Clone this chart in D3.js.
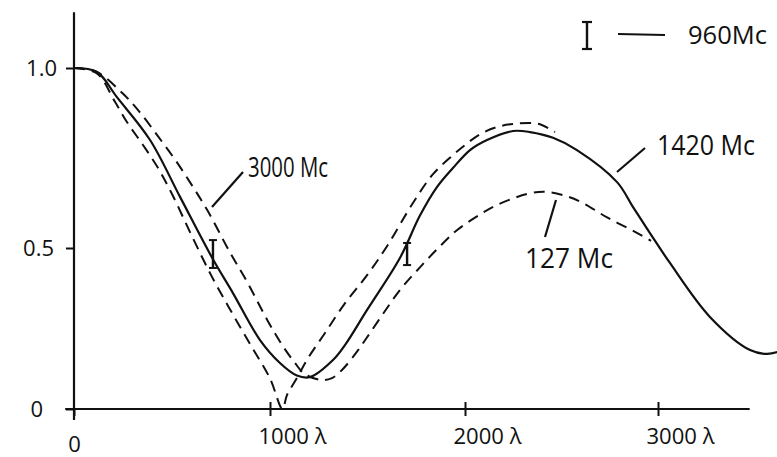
<!DOCTYPE html>
<html><head><meta charset="utf-8">
<script src="https://cdn.jsdelivr.net/npm/d3@7"></script>
<style>body{margin:0;background:#fff}svg{display:block}text{font-family:"Open Sans",sans-serif;fill:#111}</style>
</head><body><div id="chart"></div>
<script>
// ---- data (baseline in wavelengths λ, relative visibility) ----
const xTicks = [0, 1000, 2000, 3000];
const xTickLabels = ["0", "1000 λ", "2000 λ", "3000 λ"];
const yTicks = [0, 0.5, 1.0];
const yTickLabels = ["0", "0.5", "1.0"];

// 1420 Mc (solid)
const mc1420 = [[0,1.0],[117,0.989],[219,0.919],[388,0.80],[541,0.642],[709,0.465],[811,0.36],[949,0.214],[1051,0.143],[1138,0.104],[1205,0.099],[1323,0.152],[1385,0.199],[1497,0.307],[1667,0.47],[1769,0.59],[1856,0.669],[1938,0.722],[2026,0.772],[2114,0.80],[2249,0.825],[2337,0.822],[2456,0.806],[2580,0.772],[2788,0.683],[2870,0.614],[2960,0.54],[3060,0.455],[3269,0.286],[3477,0.183],[3565,0.171],[3620,0.177]];
// dashed curve reaching zero, upper second maximum
const dashedA = [[0,1.0],[117,0.985],[209,0.906],[270,0.85],[352,0.786],[429,0.722],[500,0.65],[600,0.535],[700,0.415],[800,0.305],[900,0.2],[1000,0.095],[1064,0.0],[1087,0.043],[1138,0.096],[1195,0.158],[1282,0.236],[1385,0.329],[1497,0.415],[1600,0.505],[1733,0.625],[1836,0.705],[1938,0.758],[2000,0.786],[2078,0.816],[2166,0.836],[2259,0.845],[2378,0.845],[2466,0.822]];
// dashed curve, outer on descent, lower second maximum
const dashedB = [[0,1.0],[117,0.989],[245,0.931],[327,0.883],[429,0.81],[520,0.742],[602,0.674],[679,0.606],[796,0.486],[883,0.395],[990,0.272],[1062,0.199],[1128,0.143],[1179,0.108],[1267,0.09],[1318,0.096],[1369,0.121],[1446,0.178],[1497,0.222],[1579,0.295],[1667,0.37],[1769,0.44],[1872,0.505],[1960,0.55],[2060,0.587],[2160,0.618],[2321,0.65],[2415,0.656],[2520,0.645],[2611,0.625],[2736,0.585],[2881,0.545],[2964,0.52]];
// 960 Mc measurements with error bars: [baseline, low, high]
const mc960 = [[709,0.438,0.522],[1703,0.447,0.514]];

const W = 777, H = 457;
const svg = d3.select("#chart").append("svg").attr("width", W).attr("height", H);

// hand-drawn axes are not uniform: piecewise linear scales
const x = d3.scaleLinear().domain(xTicks).range([74, 270, 465, 658]);
const y = d3.scaleLinear().domain(yTicks).range([409, 248, 68]);

const ink = "#111";

// axis lines
svg.append("line").attr("x1", x(-45)).attr("x2", x(3475)).attr("y1", y(0)).attr("y2", y(0))
  .attr("stroke", ink).attr("stroke-width", 2.2);
svg.append("line").attr("x1", x(0)).attr("x2", x(0)).attr("y1", y(1.155)).attr("y2", y(0) + 11)
  .attr("stroke", ink).attr("stroke-width", 2.2);

// y axis ticks
const yAxis = d3.axisLeft(y).tickValues(yTicks).tickSize(8).tickPadding(17)
  .tickFormat((d, i) => yTickLabels[i]);
const gy = svg.append("g").attr("transform", `translate(${x(0)},0)`).call(yAxis);
gy.select(".domain").remove();
gy.selectAll(".tick line").attr("stroke", ink).attr("stroke-width", 2);
gy.selectAll(".tick text").attr("font-size", 22).attr("fill", ink)
  .attr("font-family", "Open Sans, sans-serif")
  .attr("x", (d) => d === 0 ? -31 : (d === 0.5 ? -20 : -17));

// x axis ticks
const xAxis = d3.axisBottom(x).tickValues(xTicks).tickSize(7).tickPadding(14)
  .tickFormat((d, i) => xTickLabels[i]);
const gx = svg.append("g").attr("transform", `translate(0,${y(0)})`).call(xAxis);
gx.select(".domain").remove();
gx.selectAll(".tick line").attr("stroke", ink).attr("stroke-width", 2).attr("y1", (d) => d === 0 ? 0 : -7);
gx.selectAll(".tick text").attr("font-size", 22).attr("fill", ink)
  .attr("font-family", "Open Sans, sans-serif")
  .attr("text-anchor", (d) => d === 0 ? "middle" : "start")
  .attr("x", (d) => d === 0 ? 0 : -12)
  .attr("y", (d) => d === 0 ? 27 : 19)
  .attr("textLength", (d) => d === 0 ? null : 68).attr("lengthAdjust", "spacingAndGlyphs");

// curves
const line = d3.line().x(d => x(d[0])).y(d => y(d[1])).curve(d3.curveCatmullRom.alpha(0.5));
svg.append("path").datum(dashedA).attr("d", line).attr("fill", "none")
  .attr("stroke", ink).attr("stroke-width", 2).attr("stroke-dasharray", "11,7");
svg.append("path").datum(dashedB).attr("d", line).attr("fill", "none")
  .attr("stroke", ink).attr("stroke-width", 2).attr("stroke-dasharray", "11,7");
svg.append("path").datum(mc1420).attr("d", line).attr("fill", "none")
  .attr("stroke", ink).attr("stroke-width", 2.2);

// 960 Mc error bars
const eb = svg.append("g").selectAll("g").data(mc960).join("g");
eb.append("line").attr("x1", d => x(d[0])).attr("x2", d => x(d[0]))
  .attr("y1", d => y(d[1])).attr("y2", d => y(d[2])).attr("stroke", ink).attr("stroke-width", 2.4);
eb.append("line").attr("x1", d => x(d[0]) - 4).attr("x2", d => x(d[0]) + 4)
  .attr("y1", d => y(d[1])).attr("y2", d => y(d[1])).attr("stroke", ink).attr("stroke-width", 2);
eb.append("line").attr("x1", d => x(d[0]) - 4).attr("x2", d => x(d[0]) + 4)
  .attr("y1", d => y(d[2])).attr("y2", d => y(d[2])).attr("stroke", ink).attr("stroke-width", 2);

// legend for 960 Mc
const lg = svg.append("g");
lg.append("line").attr("x1", 587).attr("x2", 587).attr("y1", 22).attr("y2", 49).attr("stroke", ink).attr("stroke-width", 2.4);
lg.append("line").attr("x1", 582).attr("x2", 592).attr("y1", 22).attr("y2", 22).attr("stroke", ink).attr("stroke-width", 2.2);
lg.append("line").attr("x1", 582).attr("x2", 592).attr("y1", 49).attr("y2", 49).attr("stroke", ink).attr("stroke-width", 2.2);
lg.append("line").attr("x1", 618).attr("x2", 665).attr("y1", 34).attr("y2", 35).attr("stroke", ink).attr("stroke-width", 2);
lg.append("text").attr("x", 688).attr("y", 44).attr("font-size", 26)
  .attr("textLength", 79).attr("lengthAdjust", "spacingAndGlyphs").text("960Mc");

// annotations with leader lines
const notes = [
  {t: "3000 Mc", tx: 248, ty: 177, w: 80, fs: 27, l: [243, 172, 212, 207]},
  {t: "1420 Mc", tx: 657, ty: 155, w: 98, fs: 28, l: [645, 148, 617, 172]},
  {t: "127 Mc",  tx: 525, ty: 268, w: 88, fs: 27, l: [556, 200, 545, 237]}
];
notes.forEach(n => {
  svg.append("line").attr("x1", n.l[0]).attr("y1", n.l[1]).attr("x2", n.l[2]).attr("y2", n.l[3])
    .attr("stroke", ink).attr("stroke-width", 2.2);
  svg.append("text").attr("x", n.tx).attr("y", n.ty).attr("font-size", n.fs)
    .attr("textLength", n.w).attr("lengthAdjust", "spacingAndGlyphs").text(n.t);
});
</script></body></html>
